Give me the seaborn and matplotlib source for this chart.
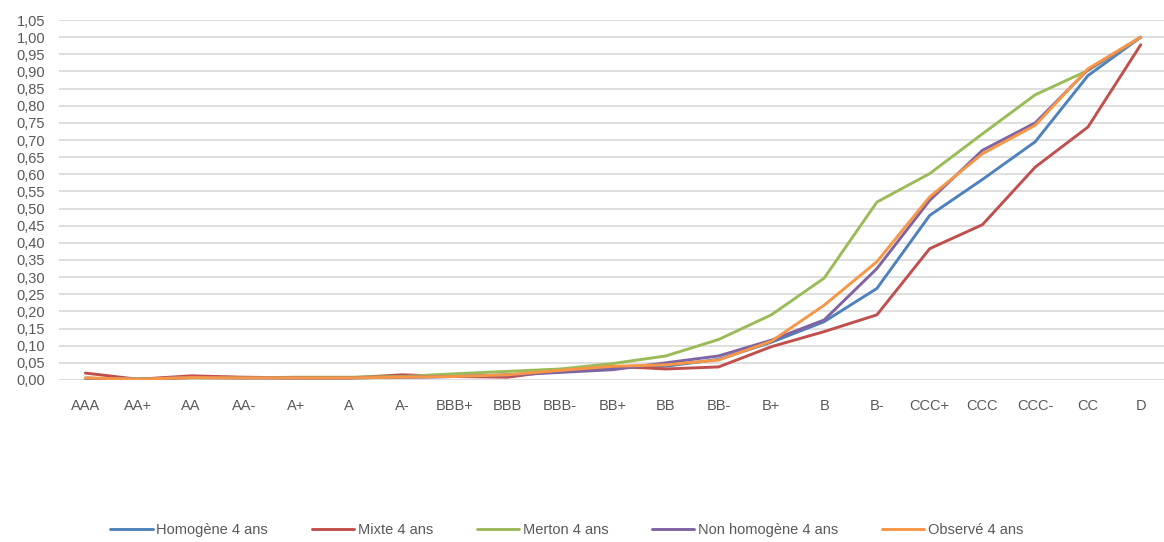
import numpy as np
import pandas as pd
import seaborn as sns
import matplotlib.pyplot as plt
from matplotlib.ticker import FuncFormatter, MultipleLocator

ratings = ["AAA", "AA+", "AA", "AA-", "A+", "A", "A-", "BBB+", "BBB", "BBB-", "BB+",
           "BB", "BB-", "B+", "B", "B-", "CCC+", "CCC", "CCC-", "CC", "D"]

homogene = [0.005, 0.002, 0.008, 0.006, 0.006, 0.006, 0.008, 0.010, 0.015, 0.025, 0.035,
            0.040, 0.060, 0.110, 0.170, 0.267, 0.480, 0.585, 0.695, 0.888, 1.000]
mixte = [0.020, 0.002, 0.012, 0.008, 0.006, 0.006, 0.015, 0.010, 0.008, 0.028, 0.040,
         0.032, 0.038, 0.097, 0.141, 0.190, 0.383, 0.453, 0.621, 0.738, 0.978]
merton = [0.005, 0.003, 0.006, 0.006, 0.008, 0.008, 0.010, 0.018, 0.025, 0.032, 0.048,
          0.070, 0.118, 0.190, 0.297, 0.519, 0.602, 0.718, 0.832, 0.903, 1.000]
non_homogene = [0.005, 0.002, 0.007, 0.006, 0.006, 0.006, 0.008, 0.010, 0.014, 0.022, 0.030,
                0.050, 0.070, 0.116, 0.175, 0.325, 0.524, 0.670, 0.750, 0.905, 1.000]
observe = [0.006, 0.002, 0.007, 0.006, 0.006, 0.006, 0.008, 0.010, 0.015, 0.028, 0.040,
           0.044, 0.058, 0.113, 0.218, 0.345, 0.534, 0.660, 0.743, 0.908, 1.000]

series = {
    "Homogène 4 ans": homogene,
    "Mixte 4 ans": mixte,
    "Merton 4 ans": merton,
    "Non homogène 4 ans": non_homogene,
    "Observé 4 ans": observe,
}
colors = ["#4F81BD", "#C0504D", "#9BBB59", "#8064A2", "#F79646"]

df = pd.concat(
    [pd.DataFrame({"Notation": ratings, "Valeur": v, "Modèle": k}) for k, v in series.items()],
    ignore_index=True,
)

sns.set_style("white")
plt.rcParams["font.family"] = ["Liberation Sans", "DejaVu Sans"]

fig = plt.figure(figsize=(11.64, 5.42), dpi=100)
ax = fig.add_axes([0.0507, 0.299, 0.952, 0.664])

sns.lineplot(data=df, x="Notation", y="Valeur", hue="Modèle", palette=colors,
             sort=False, linewidth=2.1, ax=ax, legend=True)

ax.set_xlim(-0.5, len(ratings) - 0.5)
ax.set_ylim(0, 1.05)
ax.yaxis.set_major_locator(MultipleLocator(0.05))
ax.yaxis.set_major_formatter(FuncFormatter(lambda v, p: f"{v:.2f}".replace(".", ",")))
ax.grid(axis="y", color="#D9D9D9", linewidth=1.2)
ax.set_axisbelow(True)
for s in ax.spines.values():
    s.set_visible(False)
ax.tick_params(axis="both", length=0, labelsize=10.5, colors="#595959")
ax.tick_params(axis="x", pad=14)
ax.tick_params(axis="y", pad=10)
ax.set_xlabel("")
ax.set_ylabel("")

handles, labels = ax.get_legend_handles_labels()
ax.get_legend().remove()
fig.legend(handles, labels, loc="center", bbox_to_anchor=(0.487, 1 - 530 / 542),
           ncol=5, frameon=False, fontsize=10.5, labelcolor="#595959",
           handlelength=2.9, handletextpad=0.25, columnspacing=3.0)

fig.savefig("out.png", dpi=100)
